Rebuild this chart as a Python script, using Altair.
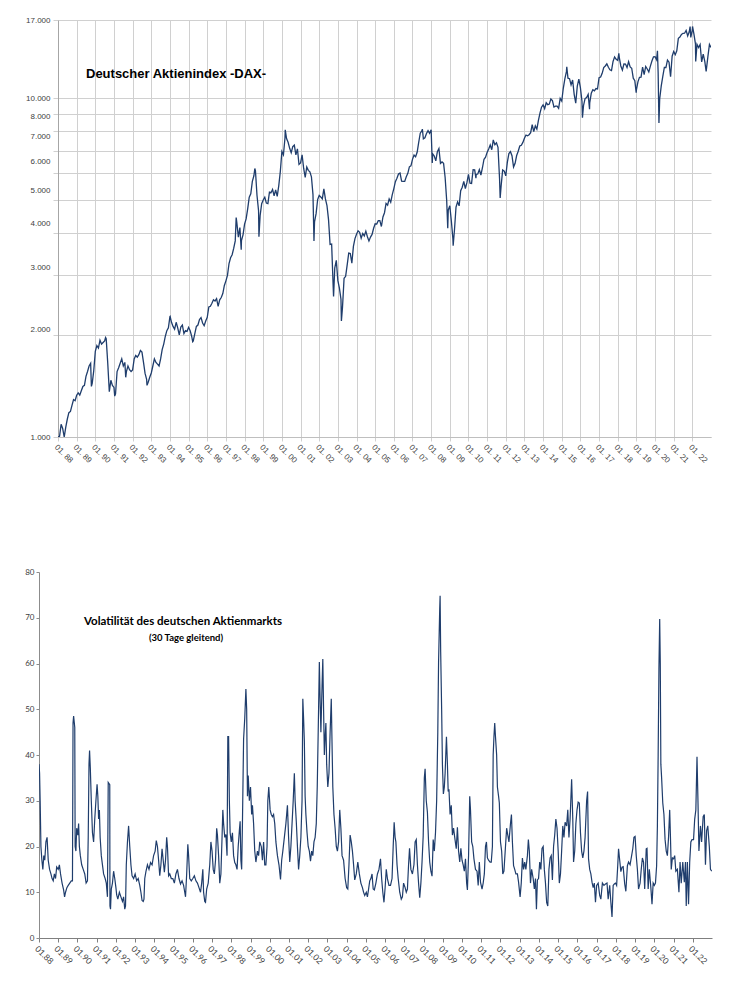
import altair as alt
import pandas as pd

# ---------------- DATA ----------------
years = list(range(1988, 2023))

# DAX month-end levels, Jan 1988 .. Dec 2022 (12 per row)
dax_monthly = [
    1005, 1090, 1060, 1000, 1070, 1130, 1180, 1190, 1240, 1290, 1280, 1328,   # 1988
    1350, 1330, 1370, 1410, 1420, 1510, 1560, 1620, 1650, 1440, 1570, 1790,   # 1989
    1860, 1830, 1930, 1880, 1900, 1920, 1950, 1650, 1360, 1470, 1420, 1400,   # 1990
    1340, 1560, 1600, 1650, 1700, 1620, 1660, 1560, 1620, 1580, 1560, 1578,   # 1991
    1700, 1740, 1720, 1750, 1800, 1780, 1660, 1540, 1480, 1450, 1500, 1545,   # 1992
    1620, 1700, 1660, 1640, 1620, 1700, 1810, 1880, 1980, 2060, 2100, 2267,   # 1993
    2180, 2120, 2080, 2180, 2100, 2000, 2110, 2140, 2020, 2060, 2050, 2107,   # 1994
    2060, 1980, 1920, 2020, 2120, 2140, 2220, 2250, 2170, 2130, 2200, 2254,   # 1995
    2420, 2430, 2480, 2540, 2520, 2560, 2430, 2540, 2580, 2650, 2800, 2889,   # 1996
    3000, 3250, 3380, 3450, 3600, 3790, 4300, 3890, 4150, 3800, 3950, 4250,   # 1997
    4400, 4710, 5100, 5220, 5680, 5900, 6100, 5160, 4650, 4500, 4880, 5002,   # 1998
    5100, 4900, 4880, 5280, 5260, 5380, 5150, 5360, 5130, 5520, 6080, 6958,   # 1999
    6800, 7640, 7600, 7410, 7110, 6900, 7190, 7270, 6800, 7080, 6370, 6434,   # 2000
    6800, 6210, 5830, 6260, 6120, 6060, 5860, 5190, 4310, 4560, 5020, 5160,   # 2001
    5110, 5040, 5400, 5040, 4820, 4380, 3700, 3710, 2770, 3150, 3320, 2893,   # 2002
    2750, 2550, 2420, 2940, 2980, 3220, 3490, 3480, 3260, 3650, 3850, 3965,   # 2003
    4060, 4020, 3860, 3985, 3920, 4050, 3900, 3790, 3890, 3960, 4130, 4256,   # 2004
    4250, 4350, 4350, 4180, 4460, 4590, 4890, 4830, 5040, 4930, 5190, 5408,   # 2005
    5670, 5800, 5970, 6010, 5690, 5680, 5680, 5860, 6000, 6270, 6310, 6597,   # 2006
    6790, 6710, 6920, 7400, 7880, 8000, 7580, 7640, 7860, 8020, 7870, 8067,   # 2007
    6850, 6750, 6530, 6950, 7100, 6420, 6480, 6420, 5830, 4990, 4670, 4810,   # 2008
    4340, 3840, 4080, 4770, 4940, 4810, 5330, 5460, 5680, 5410, 5630, 5957,   # 2009
    5610, 5600, 6150, 6140, 5960, 5970, 6150, 5930, 6230, 6600, 6690, 6914,   # 2010
    7080, 7270, 7040, 7510, 7290, 7380, 7160, 5780, 5500, 6140, 6090, 5898,   # 2011
    6460, 6860, 6950, 6760, 6260, 6420, 6770, 6970, 7220, 7260, 7400, 7612,   # 2012
    7780, 7740, 7800, 7910, 8350, 7960, 8280, 8100, 8590, 9030, 9400, 9552,   # 2013
    9310, 9690, 9560, 9600, 9940, 9830, 9410, 9470, 9470, 9330, 9980, 9806,   # 2014
    10690, 11400, 11970, 11450, 11410, 10940, 11310, 10260, 9660, 10850, 11380, 10743,  # 2015
    9800, 9500, 9970, 10040, 10260, 9680, 10340, 10590, 10510, 10670, 10640, 11481,     # 2016
    11540, 11830, 12310, 12440, 12620, 12330, 12120, 12060, 12830, 13230, 13020, 12918, # 2017
    13190, 12440, 12100, 12610, 12600, 12310, 12810, 12360, 12250, 11450, 11260, 10559, # 2018
    11170, 11520, 11530, 12340, 11730, 12400, 12190, 11940, 12430, 12870, 13240, 13249, # 2019
    12980, 11890, 9940, 10860, 11590, 12310, 12310, 12950, 12760, 11560, 13290, 13719,  # 2020
    13430, 13790, 15010, 15140, 15420, 15530, 15540, 15840, 15260, 15690, 15100, 15885, # 2021
    15470, 14460, 14410, 14100, 14390, 12780, 13480, 12830, 12110, 13250, 14400, 14100, # 2022
]
dax_start = 1000

# intra-month highs / lows (decimal year, level)
dax_ext_t = [1989.79, 1990.55, 1991.04, 1991.63, 1992.77, 1994.01, 1995.22, 1997.55,
             1997.82, 1998.55, 1998.77, 2000.18, 2001.72, 2002.77, 2003.19, 2007.53,
             2008.06, 2008.89, 2009.18, 2010.40, 2011.33, 2011.70, 2015.27, 2016.11,
             2016.49, 2018.06, 2018.99, 2020.13, 2020.21, 2021.88, 2022.01, 2022.18,
             2022.74]
dax_ext_v = [1410, 1966, 1320, 1500, 1420, 2270, 1910, 4440,
             3570, 6200, 3900, 8060, 3790, 2600, 2200, 8100,
             6440, 4130, 3670, 5800, 7530, 5070, 12370, 8750,
             9270, 13560, 10380, 13790, 8440, 16250, 16270, 12830,
             11980]

# 30-day volatility (decimal year, percent)
vol_t = [
    1988.00, 1988.03, 1988.06, 1988.10, 1988.15, 1988.20, 1988.25, 1988.30, 1988.36, 1988.42, 1988.48, 1988.55, 1988.62, 1988.68, 1988.74, 1988.80, 1988.86, 1988.92,
    1989.00, 1989.06, 1989.12, 1989.20, 1989.28, 1989.33, 1989.38, 1989.45, 1989.52, 1989.60, 1989.68, 1989.74, 1989.77, 1989.80, 1989.86, 1989.88, 1989.92, 1989.96,
    1990.02, 1990.06, 1990.10, 1990.15, 1990.22, 1990.30, 1990.38, 1990.45, 1990.52, 1990.56, 1990.60, 1990.63, 1990.67, 1990.72, 1990.78, 1990.84, 1990.90, 1990.96,
    1991.02, 1991.06, 1991.10, 1991.14, 1991.18, 1991.24, 1991.30, 1991.36, 1991.44, 1991.50, 1991.56, 1991.60, 1991.68, 1991.69, 1991.72, 1991.76, 1991.82, 1991.88, 1991.94,
    1992.00, 1992.04, 1992.10, 1992.18, 1992.26, 1992.34, 1992.40, 1992.46, 1992.50, 1992.54, 1992.60, 1992.66, 1992.72, 1992.78, 1992.84, 1992.92,
    1993.00, 1993.08, 1993.16, 1993.24, 1993.30, 1993.36, 1993.42, 1993.46, 1993.50, 1993.56, 1993.64, 1993.72, 1993.80, 1993.88, 1993.96,
    1994.04, 1994.10, 1994.16, 1994.22, 1994.28, 1994.34, 1994.40, 1994.46, 1994.52, 1994.58, 1994.64, 1994.68, 1994.74, 1994.80, 1994.88, 1994.96,
    1995.04, 1995.12, 1995.20, 1995.28, 1995.36, 1995.44, 1995.52, 1995.58, 1995.62, 1995.68, 1995.74, 1995.78, 1995.84, 1995.92,
    1996.00, 1996.08, 1996.16, 1996.24, 1996.32, 1996.40, 1996.46, 1996.52, 1996.56, 1996.62, 1996.66, 1996.72, 1996.80, 1996.88, 1996.94,
    1997.00, 1997.06, 1997.12, 1997.18, 1997.24, 1997.28, 1997.34, 1997.40, 1997.46, 1997.52, 1997.56, 1997.60, 1997.66, 1997.72, 1997.78, 1997.82, 1997.86, 1997.90, 1997.94,
    1998.00, 1998.06, 1998.12, 1998.18, 1998.24, 1998.30, 1998.36, 1998.42, 1998.46, 1998.50, 1998.54, 1998.58, 1998.64, 1998.70, 1998.76, 1998.80, 1998.84, 1998.88, 1998.94,
    1999.00, 1999.06, 1999.10, 1999.16, 1999.22, 1999.28, 1999.36, 1999.42, 1999.48, 1999.56, 1999.62, 1999.68, 1999.74, 1999.80, 1999.86, 1999.90, 1999.95,
    2000.02, 2000.08, 2000.14, 2000.20, 2000.26, 2000.32, 2000.40, 2000.48, 2000.56, 2000.62, 2000.68, 2000.76, 2000.84, 2000.92, 2000.98,
    2001.04, 2001.10, 2001.16, 2001.22, 2001.28, 2001.32, 2001.38, 2001.44, 2001.50, 2001.56, 2001.62, 2001.68, 2001.72, 2001.76, 2001.80, 2001.84, 2001.88, 2001.94,
    2002.00, 2002.06, 2002.12, 2002.18, 2002.24, 2002.30, 2002.36, 2002.42, 2002.47, 2002.52, 2002.58, 2002.62, 2002.66, 2002.72, 2002.76, 2002.80, 2002.84, 2002.88, 2002.92, 2002.96,
    2003.02, 2003.08, 2003.14, 2003.20, 2003.25, 2003.28, 2003.34, 2003.40, 2003.46, 2003.52, 2003.58, 2003.64, 2003.70, 2003.76, 2003.84, 2003.92,
    2004.00, 2004.06, 2004.12, 2004.18, 2004.24, 2004.30, 2004.36, 2004.42, 2004.50, 2004.58, 2004.66, 2004.74, 2004.82, 2004.88, 2004.94,
    2005.02, 2005.08, 2005.14, 2005.20, 2005.26, 2005.32, 2005.38, 2005.44, 2005.52, 2005.60, 2005.68, 2005.76, 2005.82, 2005.88, 2005.94,
    2006.00, 2006.06, 2006.12, 2006.20, 2006.28, 2006.36, 2006.42, 2006.47, 2006.52, 2006.56, 2006.62, 2006.68, 2006.76, 2006.84, 2006.90, 2006.96,
    2007.04, 2007.10, 2007.16, 2007.22, 2007.27, 2007.34, 2007.42, 2007.50, 2007.56, 2007.62, 2007.68, 2007.74, 2007.80, 2007.86, 2007.92, 2007.98,
    2008.04, 2008.08, 2008.14, 2008.20, 2008.26, 2008.32, 2008.38, 2008.44, 2008.50, 2008.56, 2008.62, 2008.68, 2008.74, 2008.78, 2008.84, 2008.86, 2008.89, 2008.94, 2008.98,
    2009.03, 2009.08, 2009.12, 2009.19, 2009.24, 2009.28, 2009.32, 2009.38, 2009.44, 2009.50, 2009.56, 2009.62, 2009.70, 2009.76, 2009.82, 2009.88, 2009.94,
    2010.00, 2010.06, 2010.12, 2010.18, 2010.24, 2010.28, 2010.34, 2010.40, 2010.44, 2010.50, 2010.56, 2010.62, 2010.70, 2010.78, 2010.84, 2010.90, 2010.96,
    2011.04, 2011.10, 2011.16, 2011.22, 2011.27, 2011.32, 2011.38, 2011.46, 2011.52, 2011.58, 2011.62, 2011.66, 2011.70, 2011.74, 2011.80, 2011.84, 2011.90, 2011.94,
    2012.00, 2012.06, 2012.12, 2012.18, 2012.26, 2012.32, 2012.38, 2012.44, 2012.52, 2012.57, 2012.62, 2012.68, 2012.74, 2012.80, 2012.88, 2012.94,
    2013.02, 2013.08, 2013.14, 2013.20, 2013.26, 2013.32, 2013.40, 2013.45, 2013.50, 2013.56, 2013.62, 2013.70, 2013.76, 2013.82, 2013.87, 2013.92, 2013.98,
    2014.04, 2014.10, 2014.16, 2014.22, 2014.28, 2014.34, 2014.40, 2014.46, 2014.52, 2014.58, 2014.64, 2014.70, 2014.76, 2014.82, 2014.88, 2014.94,
    2015.00, 2015.06, 2015.12, 2015.18, 2015.24, 2015.30, 2015.36, 2015.44, 2015.50, 2015.56, 2015.62, 2015.70, 2015.76, 2015.80, 2015.86, 2015.92, 2015.98,
    2016.04, 2016.10, 2016.16, 2016.22, 2016.28, 2016.34, 2016.40, 2016.48, 2016.53, 2016.58, 2016.64, 2016.70, 2016.76, 2016.82, 2016.88, 2016.94,
    2017.00, 2017.08, 2017.16, 2017.22, 2017.30, 2017.38, 2017.46, 2017.54, 2017.60, 2017.68, 2017.74, 2017.80, 2017.86, 2017.92, 2017.98,
    2018.04, 2018.10, 2018.14, 2018.20, 2018.26, 2018.32, 2018.38, 2018.46, 2018.52, 2018.60, 2018.66, 2018.74, 2018.82, 2018.88, 2018.94,
    2019.00, 2019.06, 2019.12, 2019.18, 2019.26, 2019.32, 2019.38, 2019.44, 2019.50, 2019.58, 2019.62, 2019.68, 2019.74, 2019.82, 2019.88, 2019.94,
    2020.00, 2020.06, 2020.12, 2020.16, 2020.20, 2020.24, 2020.28, 2020.31, 2020.34, 2020.38, 2020.44, 2020.50, 2020.56, 2020.62, 2020.68, 2020.74, 2020.80, 2020.84, 2020.88, 2020.94,
    2021.00, 2021.06, 2021.12, 2021.20, 2021.28, 2021.34, 2021.40, 2021.48, 2021.56, 2021.62, 2021.66, 2021.72, 2021.78, 2021.84, 2021.90, 2021.96,
    2022.04, 2022.10, 2022.16, 2022.22, 2022.27, 2022.32, 2022.40, 2022.46, 2022.54, 2022.60, 2022.66, 2022.72, 2022.78, 2022.86, 2022.92, 2022.99,
]
vol_v = [
    38, 36, 30, 20, 17, 15, 18, 17, 21, 22, 17, 15, 14, 13, 12.5, 14, 13, 15.5,
    15, 16, 14, 12, 10.5, 9, 10, 11, 11.5, 12, 12.5, 12.5, 47, 48.5, 46, 20, 19, 24,
    22.5, 25, 20, 18, 16, 15, 14, 12, 12.5, 22, 38, 41, 37, 30, 23, 21, 26, 30,
    33.6, 31, 26, 28, 22, 18, 16, 14, 13, 12, 9, 34, 33.5, 7, 6.3, 10.7, 12, 14.6, 13,
    11, 9.4, 8.5, 10, 9, 8, 9, 6.3, 7, 16, 21, 24.5, 20, 16, 13.6, 13,
    14, 12.5, 13, 11.5, 10, 8.2, 8, 8.5, 13, 14.5, 16, 15, 16.5, 16, 18,
    19, 21.3, 20, 17, 13.6, 16, 19.5, 17, 14.4, 17, 22, 20, 13.6, 14, 13, 13,
    12, 14, 15, 13, 11.8, 12.5, 11.5, 10, 9, 14, 20.5, 18, 13, 12.5,
    13, 13.6, 12.5, 12, 11, 10, 12, 15, 10, 8, 7.8, 10.7, 12, 16, 21,
    19, 15, 14, 17, 24, 22.5, 18, 12, 14, 22, 28, 25, 22, 22.6, 18, 44, 44, 30, 23,
    21, 23, 18, 16.5, 16, 15, 20, 23.5, 25.5, 17, 15, 25, 43.5, 48, 54.4, 50, 31, 35.5, 30,
    33, 27, 29, 25, 19, 16.6, 19, 18, 21, 20, 17, 21, 16, 16, 20, 30, 33,
    28, 27, 26.5, 27, 25, 21, 18, 16, 12.8, 17, 19, 22, 25, 29, 22,
    16.6, 20, 25, 30, 36, 30, 25.5, 20, 15, 18, 22, 30, 52.3, 48, 43, 31, 27, 23,
    20, 19, 16.8, 19, 18, 21, 22, 25, 33, 45, 60.3, 52, 45, 55, 61, 50, 40, 44, 47, 38,
    33, 36, 45, 52.3, 40, 33, 27, 24, 20, 19, 21, 28, 24, 18, 17, 13,
    11, 10.7, 16, 22.5, 21, 19, 16, 12.7, 14, 16.6, 14, 12, 11, 10, 9.3,
    10, 9, 10.7, 12.5, 13, 14, 10.7, 10.5, 12, 14, 15, 17.3, 13, 10, 7.8,
    11, 15, 13, 11.5, 11.5, 13, 20, 25.3, 22, 21, 16, 13, 10, 8.5, 9, 12,
    11, 10, 10.7, 16, 19.6, 15, 14, 16, 21, 21.5, 16, 12, 8.8, 12, 16.6, 22.3,
    35, 37, 30, 27.5, 21, 16.6, 14.6, 13.5, 21.5, 19, 23, 30, 45, 60.3, 72, 74.8, 62.5, 50, 38,
    31.5, 33, 36, 44, 38, 32, 32.5, 27, 29, 22.5, 24, 22, 19.5, 24.2, 19, 16.6, 19.6,
    17, 16, 14.6, 17.3, 12, 10.5, 18, 31, 28, 21, 20, 17.3, 15, 14.6, 11.5, 16.6, 12.2,
    10.7, 12, 14, 20, 21, 17.5, 17, 16.6, 16.6, 20, 40, 44, 47, 44, 40, 33, 31, 29.5,
    21, 19, 14, 14.6, 20, 24, 22.5, 21, 25, 27, 21, 15.8, 15, 14, 14, 12.2,
    9, 12, 17.5, 15, 16.6, 15, 18, 21.5, 19, 12, 15, 13, 10.7, 13, 6.3, 12.7, 13,
    16.6, 15, 19.6, 20, 15, 12, 7.8, 7, 15, 17.5, 18, 12.7, 20, 22.5, 26, 24,
    19, 12, 14, 19, 24.5, 22, 25.3, 24.5, 28, 22, 26, 34.7, 26, 16.6, 19, 25, 28,
    29.7, 29.5, 23, 19, 17.5, 19, 22, 30, 32, 17.3, 15, 14, 12.2, 11, 12, 7.8,
    11.5, 12, 9.3, 8.5, 12, 11.5, 11.8, 12, 8.5, 11.5, 7.8, 4.6, 11.5, 11.8, 12,
    11.5, 16, 19.5, 17, 14.5, 15.5, 15.6, 11.8, 10.2, 15.8, 16.6, 16, 18, 19.5, 22,
    22.2, 18, 15, 10.7, 12, 15, 17.5, 16.6, 10.7, 19.5, 19.6, 10.7, 15, 11, 7.4, 12,
    11.5, 12, 15.8, 24.5, 40, 58.8, 69.7, 60, 38, 35, 29.5, 27, 21.5, 19, 18, 22, 28, 22, 15, 17.5,
    17.3, 18, 14.6, 15, 10, 16.6, 12, 16.6, 12.2, 16.6, 7, 16.6, 7.4, 16.6, 21, 21.5,
    21.5, 26, 28, 39.6, 30, 19, 24.5, 21, 26.5, 27, 16, 23.5, 24.5, 20, 15, 14.6,
]

dax_ticks = [1000, 2000, 3000, 4000, 5000, 6000, 7000, 8000, 9000, 10000, 17000]
vol_ticks = [0, 10, 20, 30, 40, 50, 60, 70, 80]
title_top = "Deutscher Aktienindex -DAX-"
title_bottom = "Volatilität des deutschen Aktienmarkts"
subtitle_bottom = "(30 Tage gleitend)"

# ---------------- TABLES ----------------
dax_t = [1988.0] + [1988 + (i + 1) / 12 for i in range(len(dax_monthly))]
dax_v = [dax_start] + dax_monthly
df_dax = pd.DataFrame({"t": dax_t + dax_ext_t, "v": dax_v + dax_ext_v}).sort_values("t")
n = min(len(vol_t), len(vol_v))
df_vol = pd.DataFrame({"t": vol_t[:n], "v": vol_v[:n]}).sort_values("t")

LINE = "#1f3d6c"
FONT_A = "Liberation Sans"
FONT_B = "Lato"

# ---------------- TOP CHART ----------------
x_top = alt.X("t:Q",
    scale=alt.Scale(domain=[1988, 2023], nice=False, zero=False),
    axis=alt.Axis(values=years, title=None,
                  labelExpr="'01. ' + slice('0' + (datum.value % 100), -2)",
                  labelAngle=45, labelFontSize=8, labelFont=FONT_A, labelColor="#404040",
                  labelOverlap=False, labelFlush=False, labelPadding=2,
                  grid=True, gridColor="#d0d0d0", gridWidth=1,
                  domainColor="#bfbfbf", tickColor="#d0d0d0", tickSize=4))

label_off = {"condition": [
    {"test": "datum.value == 8000", "value": -14},
    {"test": "datum.value == 7000", "value": -14},
    {"test": "datum.value == 6000", "value": -12},
    {"test": "datum.value == 5000", "value": -10},
    {"test": "datum.value == 4000", "value": -9},
    {"test": "datum.value == 3000", "value": -8},
    {"test": "datum.value == 2000", "value": -5},
], "value": 0}

y_top = alt.Y("v:Q",
    scale=alt.Scale(type="log", domain=[1000, 17000], nice=False),
    axis=alt.Axis(values=dax_ticks, title=None,
                  labelExpr="datum.value == 9000 ? '' : replace(format(datum.value, ','), ',', '.')",
                  labelFontSize=8, labelFont=FONT_A, labelColor="#404040",
                  labelOverlap=False, labelFlush=False, labelPadding=3,
                  labelOffset=label_off,
                  grid=True, gridColor="#d0d0d0", gridWidth=1,
                  domainColor="#a6a6a6", tickColor="#d0d0d0", tickSize=5))

top_line = alt.Chart(df_dax).mark_line(color=LINE, strokeWidth=1.3, clip=True).encode(x=x_top, y=y_top)
top_title = alt.Chart(pd.DataFrame({"s": [title_top]})).mark_text(
    font=FONT_A, fontSize=13, fontWeight="bold", color="#000000", align="left", baseline="alphabetic"
).encode(x=alt.value(28), y=alt.value(58), text="s:N")

top = alt.layer(top_line, top_title).properties(width=653, height=417)

# ---------------- BOTTOM CHART ----------------
x_bot = alt.X("t:Q",
    scale=alt.Scale(domain=[1988, 2023], nice=False, zero=False),
    axis=alt.Axis(values=years, title=None,
                  labelExpr="'01.' + slice('0' + (datum.value % 100), -2)",
                  labelAngle=45, labelFontSize=8.5, labelFont=FONT_B, labelColor="#404040",
                  labelOverlap=False, labelFlush=False, labelPadding=2,
                  grid=False, domainColor="#7f7f7f", tickColor="#7f7f7f", tickSize=4))
y_bot = alt.Y("v:Q",
    scale=alt.Scale(domain=[0, 80], nice=False, zero=True),
    axis=alt.Axis(values=vol_ticks, title=None, labelFontSize=8, labelFont=FONT_B,
                  labelColor="#404040", labelOverlap=False, labelFlush=False, labelPadding=2,
                  grid=False, domainColor="#8c8c8c", tickColor="#8c8c8c", tickSize=3))

bot_line = alt.Chart(df_vol).mark_line(color=LINE, strokeWidth=1.2, clip=True).encode(x=x_bot, y=y_bot)
bot_title = alt.Chart(pd.DataFrame({"s": [title_bottom]})).mark_text(
    font=FONT_B, fontSize=11.5, fontWeight="bold", color="#000000", align="center", baseline="alphabetic"
).encode(x=alt.value(144), y=alt.value(53), text="s:N")
bot_sub = alt.Chart(pd.DataFrame({"s": [subtitle_bottom]})).mark_text(
    font=FONT_B, fontSize=9.5, fontWeight="bold", color="#000000", align="center", baseline="alphabetic"
).encode(x=alt.value(147), y=alt.value(69), text="s:N")

bottom = alt.layer(bot_line, bot_title, bot_sub).properties(width=673, height=366)


# invisible spacers so the two plot areas can start at different x positions
def spacer(w):
    return alt.Chart(pd.DataFrame({"a": [0]})).mark_rule(opacity=0, strokeWidth=0).encode(
        x=alt.value(0), y=alt.value(0), y2=alt.value(1)
    ).properties(width=w, height=10)


row_top = alt.hconcat(spacer(2), top, spacing=0)
row_bot = alt.hconcat(spacer(1), bottom, spacing=0)

chart = alt.vconcat(row_top, row_bot, spacing=103).properties(
    padding={"left": 15, "top": 8, "right": 5, "bottom": 5},
    background="white",
).configure_view(stroke=None)

chart.save("out.html", embed_options={"renderer": "svg", "actions": False})
